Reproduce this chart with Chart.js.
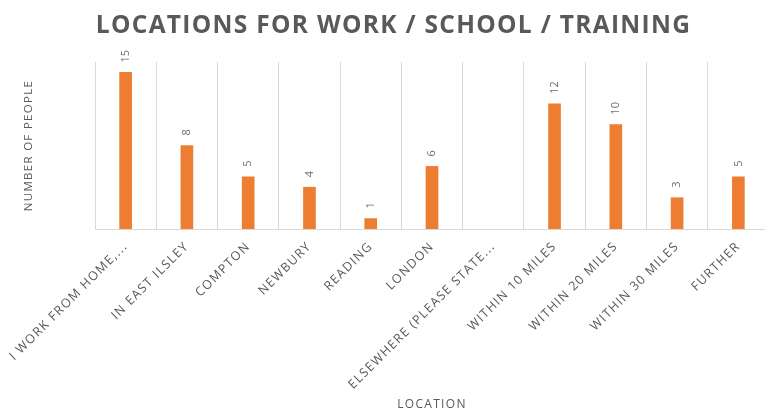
<!DOCTYPE html>
<html>
<head>
<meta charset="utf-8">
<script src="https://cdn.jsdelivr.net/npm/chart.js@4.4.1/dist/chart.umd.min.js"></script>
<style>
  html, body { margin: 0; padding: 0; background: #ffffff; overflow: hidden; }
  #wrap { width: 769px; height: 412px; position: relative; }
</style>
</head>
<body>
<div id="wrap"><canvas id="c"></canvas></div>
<script>
const categories = [
  'I WORK FROM HOME,...',
  'IN EAST ILSLEY',
  'COMPTON',
  'NEWBURY',
  'READING',
  'LONDON',
  'ELSEWHERE (PLEASE STATE...',
  'WITHIN 10 MILES',
  'WITHIN 20 MILES',
  'WITHIN 30 MILES',
  'FURTHER'
];
const peopleCounts = [15, 8, 5, 4, 1, 6, null, 12, 10, 3, 5];
const chartTitle = 'LOCATIONS FOR WORK / SCHOOL / TRAINING';
const yAxisTitle = 'NUMBER OF PEOPLE';
const xAxisTitle = 'LOCATION';

const GREY = '#595959';
const FONT = "'Open Sans', 'Liberation Sans', sans-serif";
const SPACING = '1.3px';

const spacingPlugin = {
  id: 'spacing',
  beforeLayout(chart) { chart.ctx.letterSpacing = SPACING; },
  afterLayout(chart) {
    if (chart.titleBlock) { chart.titleBlock.left = 18; }
  },
  beforeDraw(chart) { chart.ctx.letterSpacing = SPACING; }
};

const valueLabels = {
  id: 'valueLabels',
  afterDatasetsDraw(chart) {
    const ctx = chart.ctx;
    const meta = chart.getDatasetMeta(0);
    ctx.save();
    ctx.letterSpacing = '0px';
    ctx.fillStyle = '#6f6f6f';
    ctx.font = "11px " + FONT;
    ctx.textAlign = 'left';
    ctx.textBaseline = 'middle';
    meta.data.forEach((bar, i) => {
      const v = peopleCounts[i];
      if (v === null || v === undefined) return;
      ctx.save();
      ctx.translate(bar.x, bar.y - 10);
      ctx.rotate(-Math.PI / 2);
      ctx.fillText(String(v), 0, 0);
      ctx.restore();
    });
    ctx.restore();
  }
};

new Chart(document.getElementById('c'), {
  type: 'bar',
  data: {
    labels: categories,
    datasets: [{
      data: peopleCounts,
      backgroundColor: '#ED7D31',
      borderWidth: 0,
      barThickness: 12
    }]
  },
  options: {
    responsive: true,
    maintainAspectRatio: false,
    animation: false,
    layout: { padding: { left: 0, right: 0, top: 0, bottom: 0 } },
    plugins: {
      legend: { display: false },
      tooltip: { enabled: false },
      title: {
        display: true,
        text: chartTitle,
        color: GREY,
        font: { family: FONT, size: 24.5, weight: 'bold' },
        padding: { top: 11, bottom: 21.6 }
      }
    },
    scales: {
      x: {
        offset: true,
        grid: { display: true, offset: true, color: '#d9d9d9', drawTicks: false, lineWidth: 1 },
        border: { display: true, color: '#d9d9d9' },
        ticks: {
          color: GREY,
          font: { family: FONT, size: 12.5 },
          maxRotation: 45,
          minRotation: 45,
          autoSkip: false,
          padding: 10
        },
        title: {
          display: true,
          text: xAxisTitle,
          color: GREY,
          font: { family: FONT, size: 12 },
          padding: { top: 0, bottom: 0 }
        },
        afterFit(s) { s.height = 183; s.paddingLeft = 0; s.paddingRight = 0; }
      },
      y: {
        min: 0,
        max: 16,
        grid: { display: false },
        border: { display: false },
        ticks: { display: false },
        title: {
          display: true,
          text: yAxisTitle,
          color: GREY,
          font: { family: FONT, size: 11.5 },
          padding: { top: 22, bottom: 0 }
        },
        afterFit(s) { s.width = 95; }
      }
    }
  },
  plugins: [spacingPlugin, valueLabels]
});
</script>
</body>
</html>
